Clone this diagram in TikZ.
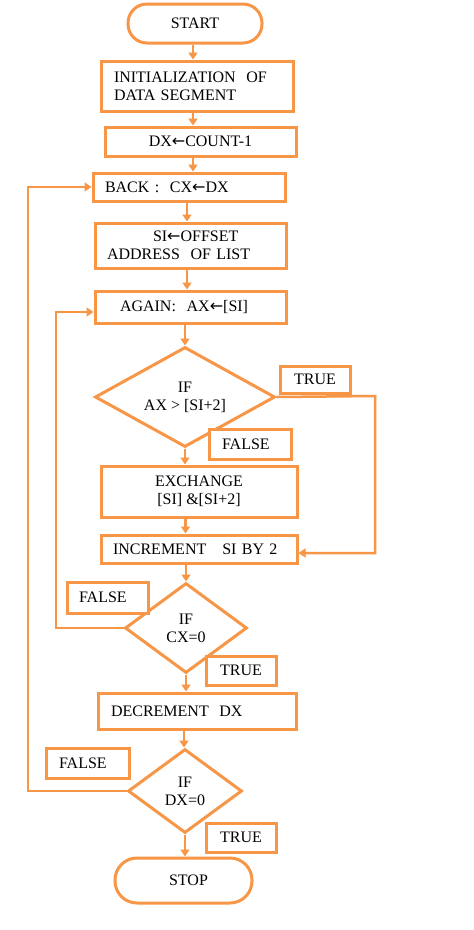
\documentclass[tikz,border=0pt]{standalone}
\usepackage{fontspec}
\setmainfont{Liberation Serif}
\newfontfamily\arrowfont{DejaVu Sans}
\newcommand{\larr}{{\arrowfont ←}}
\usetikzlibrary{shapes.geometric,arrows.meta}
\definecolor{og}{RGB}{247,150,70}
\tikzset{
  every node/.style={font=\fontsize{16}{18}\selectfont, text=black},
  box/.style={draw=og, line width=3pt, fill=white, rectangle, inner ysep=0pt},
  term/.style={box, rounded corners=#1},
  dec/.style={draw=og, line width=3pt, fill=white, diamond, inner sep=0pt, align=center},
  lbl/.style={draw=og, line width=3pt, fill=white, rectangle, inner ysep=0pt},
  conn/.style={draw=og, line width=2.5pt},
  arr/.style={conn, -{Triangle[width=9pt,length=7pt]}}
}
\begin{document}
\begin{tikzpicture}[x=1pt,y=-1pt]
\useasboundingbox (0,0) rectangle (474,930);
\fill[white] (0,0) rectangle (474,930);
% column coordinates for vertical connectors
\coordinate (xa) at (193,0);
\coordinate (xb) at (187,0);
\coordinate (xc) at (185.5,0);
\coordinate (xd) at (184,0);
% nodes
\node[term=19pt, minimum width=134pt, minimum height=39pt] (start) at (195,23.5) {START};
\node[box, minimum height=50pt, text width=166pt, inner xsep=13pt, align=left] (init) at (197,86) {INITIALIZATION\ \ OF\\DATA SEGMENT};
\node[box, minimum width=191pt, minimum height=29pt] (dx) at (200.5,141.5) {DX\larr COUNT-1};
\node[box, minimum height=28pt, text width=168pt, inner xsep=12pt, align=left] (back) at (189,187) {BACK\ :\ \ CX\larr DX};
\node[box, minimum height=45pt, text width=167pt, inner xsep=12pt, align=left] (si) at (190.5,245.5) {\hspace*{46pt}SI\larr OFFSET\\ADDRESS\ \ OF LIST};
\node[box, minimum height=32pt, text width=141pt, inner xsep=25pt, align=left] (again) at (190.5,307) {AGAIN:\ \ AX\larr[SI]};
\node[dec, aspect=1.8, minimum width=180pt, minimum height=100pt] (d1) at (185,397) {IF\\AX > [SI+2]};
\node[box, minimum width=196pt, minimum height=51pt, align=center] (exch) at (199,491.5) {EXCHANGE\\{}[SI] \&[SI+2]};
\node[box, minimum height=28pt, text width=172pt, inner xsep=12pt, align=left] (incr) at (199,549) {INCREMENT\ \ \ SI BY 2};
\node[dec, aspect=1.36, minimum width=122pt, minimum height=90pt] (d2) at (186,628) {IF\\CX=0};
\node[box, minimum height=36pt, text width=172pt, inner xsep=13pt, align=left] (decr) at (197,711) {DECREMENT\ \ DX};
\node[dec, aspect=1.36, minimum width=114pt, minimum height=84pt] (d3) at (185,791) {IF\\DX=0};
\node[term=22pt, minimum width=137pt, minimum height=45pt] (stop) at (183.5,880.5) {\hspace*{10pt}STOP};
% labels
\node[lbl, minimum width=70pt, minimum height=27pt] (t1) at (315,379.5) {TRUE};
\node[lbl, minimum height=30pt, text width=56pt, inner xsep=13pt, align=left] (f1) at (250,444) {FALSE};
\node[lbl, minimum height=31pt, text width=57pt, inner xsep=12pt, align=left] (f2) at (107.5,597.5) {FALSE};
\node[lbl, minimum width=70pt, minimum height=29pt] (t2) at (241,670.5) {TRUE};
\node[lbl, minimum height=30pt, text width=57pt, inner xsep=13pt, align=left] (f3) at (87.5,763) {FALSE};
\node[lbl, minimum width=70pt, minimum height=29pt] (t3) at (241,837.5) {TRUE};
% vertical flow
\draw[arr] (start.south -| xa) -- (init.north -| xa);
\draw[arr] (init.south -| xa) -- (dx.north -| xa);
\draw[arr] (dx.south -| xa) -- (back.north -| xa);
\draw[arr] (back.south -| xb) -- (si.north -| xb);
\draw[arr] (si.south -| xb) -- (again.north -| xb);
\draw[arr] (again.south -| d1.north) -- (d1.north);
\draw[arr] (d1.south) -- (exch.north -| d1.south);
\draw[arr] (exch.south -| xc) -- (incr.north -| xc);
\draw[arr] (incr.south -| d2.north) -- (d2.north);
\draw[arr] (d2.south) -- (decr.north -| d2.south);
\draw[arr] (decr.south -| xd) -- (d3.north -| xd);
\draw[arr] (d3.south) -- (stop.north -| d3.south);
% loops
\coordinate (r1) at (375,396);
\draw[arr] (d1.east) -- (r1) |- ([yshift=-4pt]incr.east);
\coordinate (l2) at (56,628);
\draw[arr] (d2.west) -- (l2) |- ([yshift=-5pt]again.west);
\coordinate (l3) at (28,791);
\draw[arr] (d3.west) -- (l3) |- (back.west);
\end{tikzpicture}
\end{document}
